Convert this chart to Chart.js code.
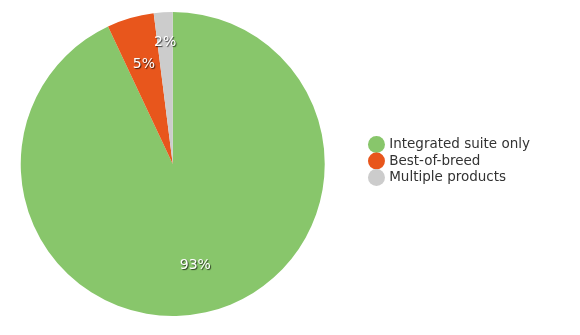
<!DOCTYPE html>
<html>
<head>
<meta charset="utf-8">
<script src="https://cdn.jsdelivr.net/npm/chart.js@4.4.1/dist/chart.umd.min.js"></script>
<style>
  html, body { margin: 0; padding: 0; background: #fff; }
  #wrap { width: 580px; height: 335px; position: relative; }
</style>
</head>
<body>
<div id="wrap"><canvas id="pieChart"></canvas></div>
<script>
const labels = ['Integrated suite only', 'Best-of-breed', 'Multiple products'];
const shares = [93, 5, 2];
const colors = ['#88c66b', '#e8561c', '#cccccc'];
// radius fraction for each label (small slice pushed outward)
const labelRadius = [0.68, 0.68, 0.8];

// Legend nudge + slice labels------------------------
const sliceLabels = {
  id: 'sliceLabels',
  beforeLayout(chart) {
    // reserve more room for the legend so the pie sits further left,
    // then draw the legend items a bit to the right inside that room
    const legend = chart.legend;
    if (legend && !legend._patched) {
      const fit = legend.fit;
      const draw = legend.draw;
      legend.fit = function () {
        fit.call(this);
        this.width += 47;
      };
      legend.draw = function () {
        const ctx = this.ctx;
        ctx.save();
        ctx.translate(22, -3);
        draw.apply(this, arguments);
        ctx.restore();
      };
      legend._patched = true;
    }
  },
  afterDatasetsDraw(chart) {
    const ctx = chart.ctx;
    const meta = chart.getDatasetMeta(0);
    ctx.save();
    ctx.font = '14px "DejaVu Sans", Verdana, sans-serif';
    ctx.textAlign = 'center';
    ctx.textBaseline = 'middle';
    meta.data.forEach((arc, i) => {
      const p = arc.getProps(['x', 'y', 'startAngle', 'endAngle', 'outerRadius'], true);
      const mid = (p.startAngle + p.endAngle) / 2;
      const r = p.outerRadius * labelRadius[i];
      const x = p.x + Math.cos(mid) * r;
      const y = p.y + Math.sin(mid) * r;
      ctx.shadowColor = 'rgba(0,0,0,0.7)';
      ctx.shadowOffsetX = 1;
      ctx.shadowOffsetY = 1;
      ctx.shadowBlur = 1;
      ctx.fillStyle = '#ffffff';
      ctx.fillText(shares[i] + '%', x, y);
    });
    ctx.restore();
  }
};

const pieCanvas = document.getElementById('pieChart').getContext('2d');
new Chart(pieCanvas, {
  type: 'pie',
  data: {
    labels: labels,
    datasets: [{
      data: shares,
      backgroundColor: colors,
      borderWidth: 0
    }]
  },
  options: {
    responsive: true,
    maintainAspectRatio: false,
    animation: false,
    layout: { padding: { top: 12, bottom: 19, left: 0, right: 15 } },
    plugins: {
      tooltip: { enabled: false },
      legend: {
        position: 'right',
        labels: {
          usePointStyle: true,
          pointStyle: 'circle',
          boxWidth: 12,
          boxHeight: 12,
          padding: 3,
          color: '#333333',
          font: { family: '"DejaVu Sans", Verdana, sans-serif', size: 13.5 }
        }
      }
    }
  },
  plugins: [sliceLabels]
});
</script>
</body>
</html>
